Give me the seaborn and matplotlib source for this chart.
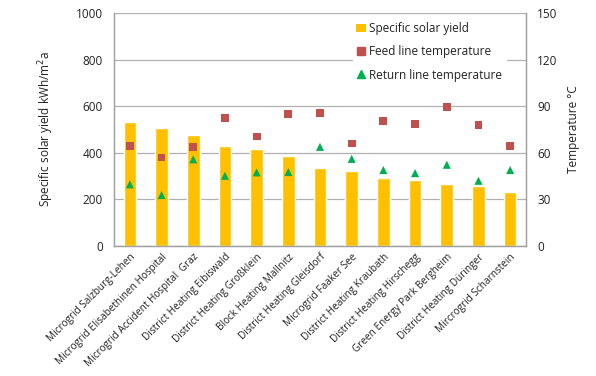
import numpy as np
import pandas as pd
import matplotlib
matplotlib.use("Agg")
import matplotlib.pyplot as plt
import seaborn as sns
from matplotlib.lines import Line2D
from matplotlib.patches import Patch

sites = ["Microgrid Salzburg-Lehen", "Microgrid Elisabethinen Hospital",
         "Microgrid Accident Hospital  Graz", "District Heating Eibiswald",
         "District Heating Großklein", "Block Heating Mallnitz",
         "District Heating Gleisdorf", "Microgrid Faaker See",
         "District Heating Kraubath", "District Heating Hirschegg",
         "Green Energy Park Bergheim", "District Heating Düringer",
         "Mircrogrid Scharnstein"]
solar_yield = [533, 505, 475, 430, 418, 385, 335, 322, 290, 284, 268, 259, 232]
feed_temp = [64.3, 57, 63.6, 82.5, 70.5, 85, 85.7, 66, 80.3, 78.5, 89.5, 78, 64.5]
return_temp = [39.7, 32.8, 55.8, 45.2, 47.4, 47.6, 63.8, 56.1, 48.9, 46.9, 52.3, 42, 48.9]

df = pd.DataFrame({"site": sites, "yield": solar_yield,
                   "feed": feed_temp, "ret": return_temp,
                   "pos": np.arange(len(sites))})

sns.set_theme(style="white")
plt.rcParams["font.family"] = ["Open Sans", "DejaVu Sans"]

fig = plt.figure(figsize=(5.96, 3.76), dpi=100)
ax = fig.add_axes([114/596, 1 - 246/376, 412/596, 233/376])
ax2 = ax.twinx()

sns.barplot(data=df, x="pos", y="yield", color="#FFC000", width=0.4,
            saturation=1, ax=ax, zorder=2)
sns.scatterplot(data=df, x="pos", y="feed", marker="s", color="#C0504D",
                s=32, edgecolor="none", ax=ax2, zorder=3)
sns.scatterplot(data=df, x="pos", y="ret", marker="^", color="#00B050",
                s=34, edgecolor="none", ax=ax2, zorder=3)

ax.set_ylim(0, 1000)
ax2.set_ylim(0, 150)
ax.set_xlim(-0.5, len(sites) - 0.5)
ax2.set_xlim(-0.5, len(sites) - 0.5)
ax.set_yticks(np.arange(0, 1001, 200))
ax2.set_yticks(np.arange(0, 151, 30))
ax.yaxis.grid(True, color="#b0b0b0", linewidth=0.9)
ax.set_axisbelow(True)
ax.set_xticks(np.arange(len(sites)))
ax.set_xticklabels(sites, rotation=45, ha="right", rotation_mode="anchor",
                   fontsize=7.2, color="#222222")
ax.tick_params(axis="x", length=0, pad=4)
ax.tick_params(axis="y", length=0, labelsize=8.5, colors="#222222", pad=8)
ax2.tick_params(axis="y", length=0, labelsize=8.5, colors="#222222", pad=8)
ax.set_xlabel("")
ax2.set_xlabel("")
ax.set_ylabel("Specific solar yield kWh/m$^2$a", fontsize=8.5, color="#222222", labelpad=14)
ax2.set_ylabel("Temperature °C", fontsize=8.5, color="#222222", labelpad=7)

for a in (ax, ax2):
    for side in ("left", "right", "bottom"):
        a.spines[side].set_color("#a0a0a0")
        a.spines[side].set_linewidth(0.9)
    a.spines["top"].set_visible(False)

handles = [Patch(facecolor="#FFC000", edgecolor="none"),
           Line2D([], [], marker="s", color="#C0504D", linestyle="none", markersize=5.5),
           Line2D([], [], marker="^", color="#00B050", linestyle="none", markersize=5.5)]
labels = ["Specific solar yield", "Feed line temperature", "Return line temperature"]
leg = ax2.legend(handles, labels, loc="upper left", bbox_to_anchor=(0.565, 1.0),
                 frameon=True, fancybox=False, framealpha=1, edgecolor="white",
                 fontsize=8.5, handlelength=0.8, handletextpad=0.3,
                 labelspacing=0.85, borderpad=0.3)
for t in leg.get_texts():
    t.set_color("#222222")

fig.savefig("out.png", dpi=100)
